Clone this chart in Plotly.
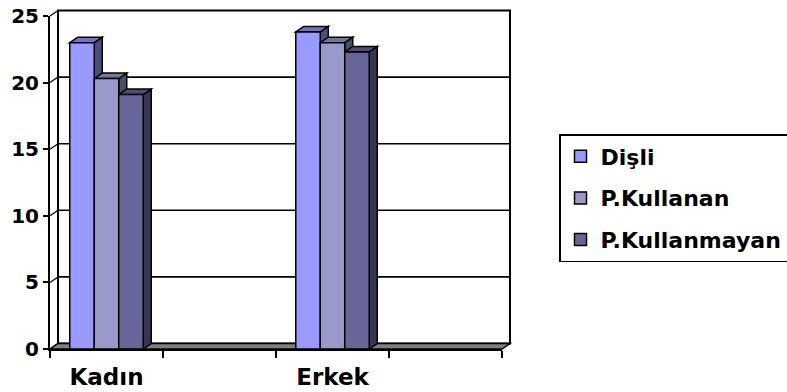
import plotly.graph_objects as go

# ---- data ----
categories = ["Kadın", " ", "Erkek", "  "]
series_names = ["Dişli", "P.Kullanan", "P.Kullanmayan"]
disli = [23.0, None, 23.8, None]
p_kullanan = [20.3, None, 23.0, None]
p_kullanmayan = [19.1, None, 22.3, None]
y_ticks = [0, 5, 10, 15, 20, 25]

# ---- style ----
front_colors = ["#9999FF", "#9999CC", "#666699"]
top_colors = ["#7373BF", "#767699", "#4F4F76"]
side_colors = ["#4D4D80", "#4D4D66", "#36364F"]
W, H = 787, 392
ML, MR, MT, MB = 50, 285, 16, 43
PW, PH = W - ML - MR, H - MT - MB
YMAX = 25
BARGAP = 0.35
DX_PX, DY_PX = 8, 5.5
FONT = "DejaVu Sans"

series = [disli, p_kullanan, p_kullanmayan]
ncat = len(categories)
bw = (1 - BARGAP) / len(series)

fig = go.Figure()
for name, vals, col in zip(series_names, series, front_colors):
    fig.add_trace(go.Bar(
        x=categories, y=vals, name=name, legendgroup=name,
        marker=dict(color=col, line=dict(color="black", width=1.5)),
    ))

# helpers converting data to paper coordinates
def px_x(idx):
    return (idx + 0.5) / ncat

def px_y(v):
    return v / YMAX

dx = DX_PX / PW
dy = DY_PX / PH

shapes = []
# back wall
shapes.append(dict(type="rect", xref="paper", yref="paper", layer="below",
                   x0=dx, x1=1 + dx, y0=dy, y1=1 + dy,
                   fillcolor="white", line=dict(color="black", width=2)))
# back wall gridlines
for v in y_ticks[1:-1]:
    shapes.append(dict(type="line", xref="paper", yref="paper", layer="below",
                       x0=dx, x1=1 + dx, y0=px_y(v) + dy, y1=px_y(v) + dy,
                       line=dict(color="black", width=1.6)))
# side wall lines
for v in y_ticks:
    shapes.append(dict(type="line", xref="paper", yref="paper", layer="below",
                       x0=0, x1=dx, y0=px_y(v), y1=px_y(v) + dy,
                       line=dict(color="black", width=1.2)))
# floor
shapes.append(dict(type="path", xref="paper", yref="paper", layer="below",
                   path=f"M 0,0 L 1,0 L {1+dx},{dy} L {dx},{dy} Z",
                   fillcolor="#808080", line=dict(color="black", width=1.5)))
# bar sides and tops
for ci in range(ncat):
    for si, vals in enumerate(series):
        v = vals[ci]
        if v is None:
            continue
        xl = px_x(ci - (1 - BARGAP) / 2 + si * bw)
        xr = px_x(ci - (1 - BARGAP) / 2 + (si + 1) * bw)
        yt = px_y(v)
        shapes.append(dict(type="path", xref="paper", yref="paper", layer="below",
                           path=f"M {xr},0 L {xr+dx},{dy} L {xr+dx},{yt+dy} L {xr},{yt} Z",
                           fillcolor=side_colors[si], line=dict(color="black", width=1.5)))
        shapes.append(dict(type="path", xref="paper", yref="paper", layer="below",
                           path=f"M {xl},{yt} L {xl+dx},{yt+dy} L {xr+dx},{yt+dy} L {xr},{yt} Z",
                           fillcolor=top_colors[si], line=dict(color="black", width=1.5)))

fig.update_layout(
    width=W, height=H,
    margin=dict(l=ML, r=MR, t=MT, b=MB, pad=0, autoexpand=False),
    paper_bgcolor="white", plot_bgcolor="rgba(0,0,0,0)",
    barmode="group", bargap=BARGAP, bargroupgap=0,
    shapes=shapes,
    showlegend=True,
    legend=dict(
        xref="container", yref="container",
        x=559 / W, y=1 - 134 / H, xanchor="left", yanchor="top",
        bordercolor="black", borderwidth=1.5, bgcolor="white",
        font=dict(family=FONT, size=22, color="black", weight="bold"),
        tracegroupgap=10, traceorder="grouped",
    ),
    xaxis=dict(
        type="category", categoryorder="array", categoryarray=categories,
        range=[-0.5, ncat - 0.5], automargin=False,
        showline=True, linecolor="black", linewidth=1.5,
        ticks="outside", tickson="boundaries", ticklen=7, tickwidth=1.5, tickcolor="black",
        showgrid=False, zeroline=False,
        tickfont=dict(family=FONT, size=23, color="black", weight="bold"),
        ticklabelstandoff=7,
    ),
    yaxis=dict(
        range=[0, YMAX], tickvals=y_ticks, automargin=False,
        showline=True, linecolor="black", linewidth=2,
        ticks="outside", ticklen=5, tickwidth=1.5, tickcolor="black",
        showgrid=False, zeroline=False,
        tickfont=dict(family=FONT, size=20, color="black", weight="bold"),
    ),
)

fig.write_html("out.html")
